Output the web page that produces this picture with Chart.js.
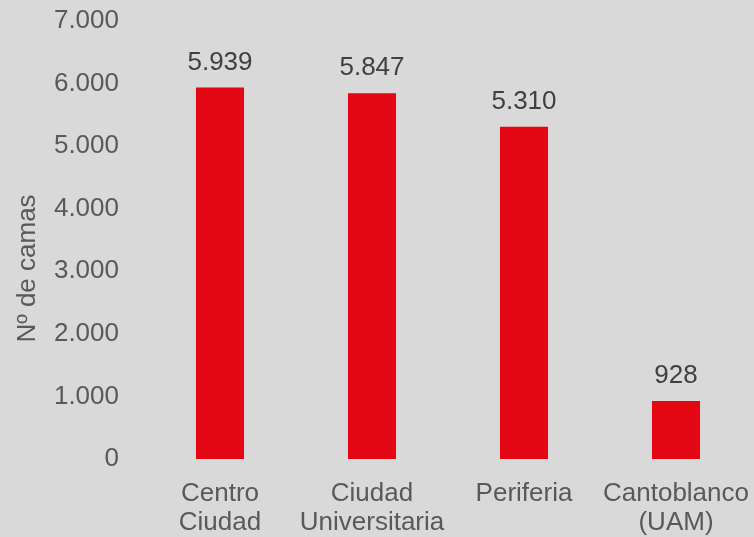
<!DOCTYPE html>
<html lang="es">
<head>
  <meta charset="UTF-8">
  <title>Nº de camas por campus</title>
  <script src="https://cdn.jsdelivr.net/npm/chart.js"></script>
  <style>
    html, body { margin: 0; padding: 0; background: #d9d9d9; }
  </style>
</head>
<body>
  <canvas id="myChart" width="754" height="537"></canvas>
  <script>
    // campus y número de camas
    const campus = [['Centro', 'Ciudad'], ['Ciudad', 'Universitaria'], 'Periferia', ['Cantoblanco', '(UAM)']];
    const camas = [5939, 5847, 5310, 928];
    const yTicks = [0, 1000, 2000, 3000, 4000, 5000, 6000, 7000];
    const yTitle = 'Nº de camas';

    // 5939 -> "5.939"
    const fmt = v => String(v).replace(/\B(?=(\d{3})+(?!\d))/g, '.');
    const fontFamily = '"Liberation Sans", Arial, sans-serif';

    // etiqueta de valor encima de cada barra + título del eje Y centrado en el lienzo
    const valueLabels = {
      id: 'valueLabels',
      afterDatasetsDraw(chart) {
        const ctx = chart.ctx;
        const meta = chart.getDatasetMeta(0);
        ctx.save();
        ctx.font = '26px ' + fontFamily;
        ctx.fillStyle = '#404040';
        ctx.textAlign = 'center';
        ctx.textBaseline = 'middle';
        meta.data.forEach((bar, i) => {
          ctx.fillText(fmt(camas[i]), bar.x, bar.y - 25);
        });

        ctx.fillStyle = '#595959';
        ctx.translate(28, chart.height / 2);
        ctx.rotate(-Math.PI / 2);
        ctx.fillText(yTitle, 0, 0);
        ctx.restore();
      }
    };

    const ctx = document.getElementById('myChart').getContext('2d');
    new Chart(ctx, {
      type: 'bar',
      data: {
        labels: campus,
        datasets: [{
          data: camas,
          backgroundColor: '#e30613',
          categoryPercentage: 1,
          barPercentage: 0.316
        }]
      },
      options: {
        responsive: false,
        animation: false,
        layout: { padding: { top: 21, left: 0, right: 2, bottom: 0 } },
        plugins: {
          legend: { display: false },
          tooltip: { enabled: false }
        },
        scales: {
          x: {
            grid: { display: false },
            border: { display: false },
            afterFit: s => { s.height = 78; s.paddingLeft = 0; s.paddingRight = 0; },
            ticks: {
              color: '#595959',
              font: { family: fontFamily, size: 26, lineHeight: 1.115 },
              padding: 12,
              maxRotation: 0,
              autoSkip: false
            }
          },
          y: {
            min: 0,
            max: 7000,
            afterBuildTicks: axis => { axis.ticks = yTicks.map(v => ({ value: v })); },
            afterFit: s => { s.width = 144; s.paddingTop = 0; s.paddingBottom = 0; },
            grid: { display: false },
            border: { display: false },
            ticks: {
              color: '#595959',
              font: { family: fontFamily, size: 26 },
              padding: 17,
              callback: v => fmt(v)
            }
          }
        }
      },
      plugins: [valueLabels]
    });
  </script>
</body>
</html>
